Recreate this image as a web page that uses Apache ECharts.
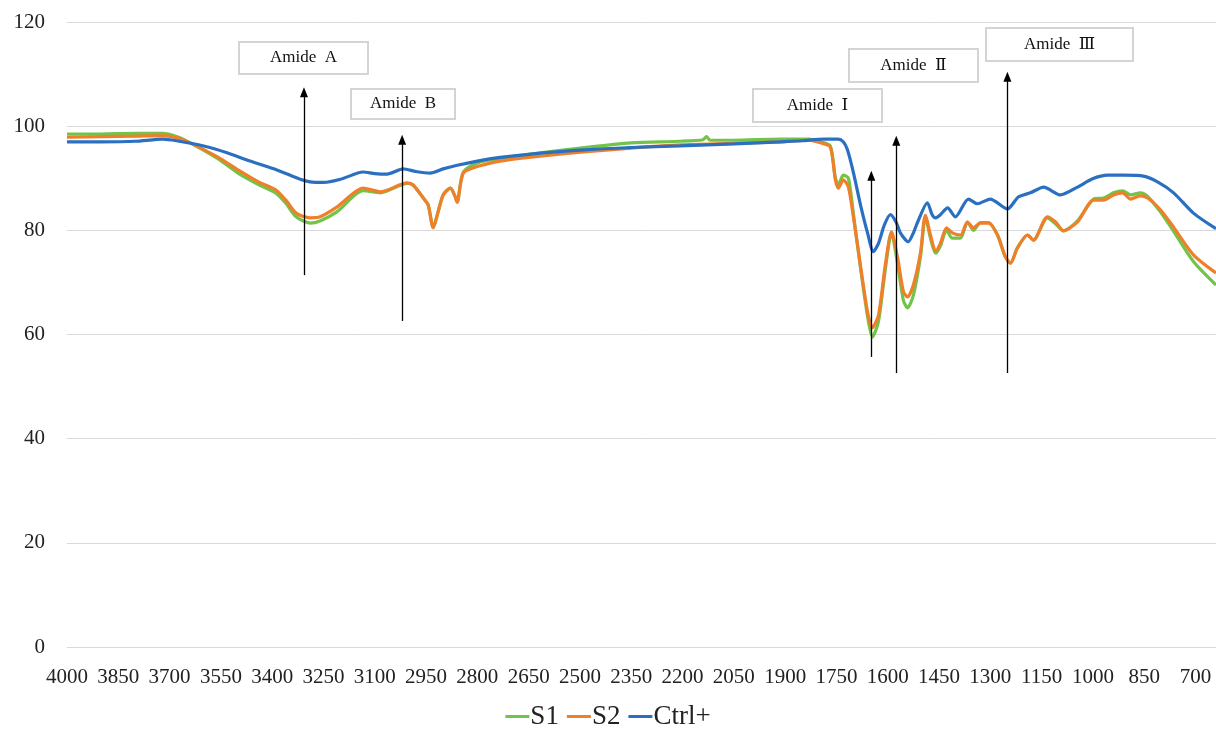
<!DOCTYPE html>
<html>
<head>
<meta charset="utf-8">
<script src="https://cdn.jsdelivr.net/npm/echarts@6/dist/echarts.min.js"></script>
<style>
html,body{margin:0;padding:0;background:#fff;}
#chart{width:1216px;height:735px;}
</style>
</head>
<body>
<div id="chart"></div>
<script>
// ---- data (wavenumber cm-1, transmittance %) ----
const s1Wn = [4000,3900,3800,3720,3680,3640,3560,3500,3440,3390,3360,3330,3289,3260,3210,3134,3084,3005,2988,2958,2944,2929,2915,2900,2879,2865,2859,2841,2792,2733,2650,2499,2350,2207,2140,2130,2120,2050,1914,1830,1797,1768,1753,1744,1730,1715,1700,1680,1659,1645,1627,1607,1589,1571,1554,1542,1525,1504,1490,1475,1460,1446,1428,1411,1387,1367,1349,1329,1305,1279,1256,1241,1221,1191,1174,1133,1109,1086,1045,998,969,940,913,890,861,840,802,764,706,640];
const s1Val = [98.5,98.5,98.6,98.6,98.0,96.8,93.8,91.0,88.8,87.2,85.2,82.6,81.4,81.8,83.6,87.6,87.2,89.0,88.7,86.2,84.9,80.5,83.5,86.8,88.1,86.5,85.4,91.2,93.1,93.8,94.6,95.8,96.8,97.1,97.4,98.0,97.3,97.3,97.5,97.5,97.0,96.2,90.0,88.8,90.6,90.0,83.0,73.0,63.5,59.5,62.5,72.5,79.5,73.5,66.5,65.1,67.5,75.0,82.6,78.5,75.6,77.0,80.0,78.5,78.5,81.6,80.0,81.5,81.5,79.1,74.9,73.7,76.6,79.1,78.1,82.4,81.2,79.9,81.8,86.0,86.2,87.2,87.6,86.8,87.2,86.5,83.5,79.8,74.0,69.5];

const s2Wn = [4000,3900,3800,3720,3680,3640,3560,3500,3440,3390,3360,3330,3289,3260,3210,3134,3084,3005,2988,2958,2944,2929,2915,2900,2879,2865,2859,2841,2792,2733,2650,2499,2350,2207,2050,1914,1830,1797,1768,1753,1744,1730,1715,1700,1680,1659,1645,1627,1607,1589,1571,1554,1542,1525,1504,1490,1475,1460,1446,1428,1411,1387,1367,1349,1329,1305,1279,1256,1241,1221,1191,1174,1133,1109,1086,1045,998,969,940,913,890,861,840,802,764,706,640];
const s2Val = [97.9,98.0,98.1,98.2,97.8,96.8,94.1,91.6,89.3,87.8,85.8,83.3,82.4,82.6,84.5,88.1,87.4,89.1,88.7,86.2,84.9,80.5,83.5,86.8,88.1,86.5,85.4,91.0,92.4,93.3,94.0,95.0,95.8,96.4,96.7,97.0,97.3,96.8,96.0,89.7,88.1,89.7,88.3,82.4,73.4,64.3,61.3,63.7,73.4,79.7,74.7,68.2,67.2,69.5,75.8,82.9,79.1,76.0,77.5,80.5,79.5,79.1,81.6,80.5,81.4,81.4,79.1,74.9,73.7,76.6,79.1,78.1,82.6,81.6,79.9,81.6,85.8,85.8,86.8,87.2,86.0,86.6,86.2,83.9,80.6,75.3,71.8];

const ctrlWn = [4000,3900,3800,3720,3680,3600,3532,3465,3386,3318,3289,3250,3200,3134,3100,3064,3017,2980,2938,2900,2859,2800,2733,2650,2499,2350,2207,2050,1914,1850,1788,1745,1730,1718,1700,1680,1659,1642,1627,1610,1592,1575,1563,1540,1525,1513,1484,1470,1460,1446,1425,1402,1364,1338,1300,1250,1218,1183,1144,1095,1045,1001,957,910,852,811,764,706,640];
const ctrlVal = [97.0,97.0,97.1,97.5,97.2,96.2,94.9,93.3,91.6,89.8,89.3,89.2,89.8,91.2,90.9,90.8,91.8,91.3,91.0,91.8,92.5,93.3,94.0,94.6,95.4,95.9,96.2,96.6,97.0,97.2,97.5,97.5,97.0,95.5,91.0,85.0,79.5,75.9,77.5,81.0,83.0,81.5,79.5,77.8,79.5,81.5,85.3,83.0,82.4,83.0,84.3,82.6,86.0,85.1,86.0,84.1,86.4,87.2,88.3,86.8,88.3,89.9,90.6,90.6,90.4,89.3,87.2,83.3,80.3];

const xTickLabels = [4000,3850,3700,3550,3400,3250,3100,2950,2800,2650,2500,2350,2200,2050,1900,1750,1600,1450,1300,1150,1000,850,700];
const seriesNames = ['S1','S2','Ctrl+'];

// annotation arrows: [wavenumber, from value, to value]
const arrowWn = [3307, 3020, 1648, 1575, 1250];
const arrowFrom = [71.4, 62.6, 55.7, 52.6, 52.6];
const arrowTo = [106.5, 97.4, 90.5, 97.2, 109.5];
const annotTexts = ['Amide  A','Amide  B','Amide  Ⅰ','Amide  Ⅱ','Amide  Ⅲ'];

const zip = (a, b) => a.map((v, i) => [v, b[i]]);
const colors = ['#72c34a', '#f07f2a', '#2b70c0'];
const FONT = '"Liberation Serif","DejaVu Serif",serif';

const chart = echarts.init(document.getElementById('chart'));

const boxes = [
  {x:238, y:41, w:129, h:32},
  {x:350, y:88, w:104, h:30},
  {x:752, y:88, w:129, h:33},
  {x:848, y:48, w:129, h:33},
  {x:985, y:27, w:147, h:33}
];

const graphics = boxes.map((b, i) => ({
  type: 'group',
  left: b.x, top: b.y,
  children: [
    {type:'rect', shape:{x:0,y:0,width:b.w,height:b.h}, style:{fill:'#fff', stroke:'#d4d4d4', lineWidth:2}},
    {type:'text', x:b.w/2, y:b.h/2, style:{text:annotTexts[i], font:'17px ' + FONT, fill:'#111', align:'center', verticalAlign:'middle'}}
  ]
}));

const mkLineData = arrowWn.map((w, i) => [
  {coord:[w, arrowFrom[i]]},
  {coord:[w, arrowTo[i]]}
]);

chart.setOption({
  animation: false,
  backgroundColor: '#fff',
  color: colors,
  grid: {left: 67, right: 0, top: 22, bottom: 88, containLabel: false},
  xAxis: {
    type: 'value', inverse: true, min: 640, max: 4000,
    axisLine: {show: false}, axisTick: {show: false}, splitLine: {show: false},
    axisLabel: {customValues: xTickLabels, formatter: v => String(v), fontFamily: FONT, fontSize: 21, color: '#222', margin: 20, showMinLabel: true, showMaxLabel: true}
  },
  yAxis: {
    type: 'value', min: 0, max: 120, interval: 20,
    axisLine: {show: false}, axisTick: {show: false},
    splitLine: {lineStyle: {color: '#d9d9d9', width: 1}},
    axisLabel: {fontFamily: FONT, fontSize: 21, color: '#222', margin: 22}
  },
  legend: {
    bottom: 0, left: 'center',
    data: seriesNames,
    icon: 'rect', itemWidth: 24, itemHeight: 3, itemGap: 8,
    textStyle: {fontFamily: FONT, fontSize: 27, color: '#222', padding: [0,0,0,-4]}
  },
  graphic: graphics,
  series: [
    {name: seriesNames[0], type: 'line', data: zip(s1Wn, s1Val), showSymbol: false, smooth: 0.25, lineStyle: {width: 3.2, color: colors[0]}, z: 2},
    {name: seriesNames[1], type: 'line', data: zip(s2Wn, s2Val), showSymbol: false, smooth: 0.25, lineStyle: {width: 3.2, color: colors[1]}, z: 3},
    {name: seriesNames[2], type: 'line', data: zip(ctrlWn, ctrlVal), showSymbol: false, smooth: 0.25, lineStyle: {width: 3.2, color: colors[2]}, z: 4,
     markLine: {
       silent: true, animation: false,
       symbol: ['none', 'triangle'], symbolSize: [8, 10],
       label: {show: false},
       lineStyle: {color: '#000', width: 1.3, type: 'solid'},
       emphasis: {disabled: true},
       data: mkLineData
     }}
  ]
});
</script>
</body>
</html>
